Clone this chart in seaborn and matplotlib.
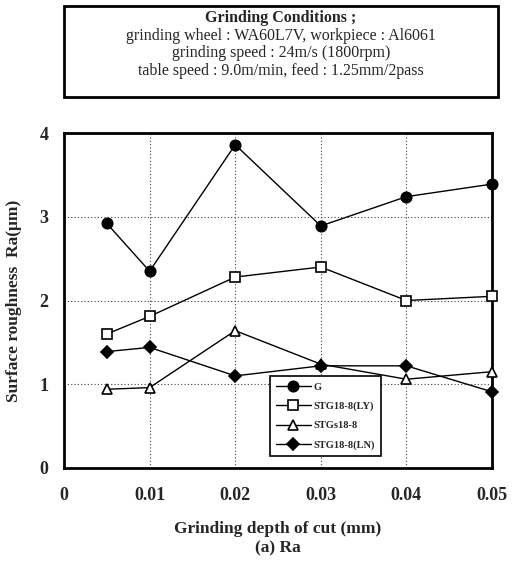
import matplotlib
matplotlib.use("Agg")
import matplotlib.pyplot as plt
import seaborn as sns
import pandas as pd
from matplotlib.patches import Rectangle

depth = [0.005, 0.01, 0.02, 0.03, 0.04, 0.05]
series_names = ["G", "STG18-8(LY)", "STGs18-8", "STG18-8(LN)"]
ra_G = [2.92, 2.35, 3.86, 2.89, 3.24, 3.39]
ra_LY = [1.60, 1.81, 2.28, 2.40, 2.00, 2.05]
ra_s = [0.94, 0.96, 1.64, 1.24, 1.06, 1.15]
ra_LN = [1.39, 1.44, 1.10, 1.22, 1.22, 0.91]
x_ticks = [0, 0.01, 0.02, 0.03, 0.04, 0.05]
x_tick_labels = ["0", "0.01", "0.02", "0.03", "0.04", "0.05"]
y_ticks = [0, 1, 2, 3, 4]
box_lines = ["Grinding Conditions ;",
             "grinding wheel : WA60L7V, workpiece : Al6061",
             "grinding speed : 24m/s (1800rpm)",
             "table speed : 9.0m/min, feed : 1.25mm/2pass"]

values = [ra_G, ra_LY, ra_s, ra_LN]
df = pd.DataFrame({
    "depth": depth * len(series_names),
    "Ra": sum(values, []),
    "series": sum([[n] * len(depth) for n in series_names], []),
})

sns.set_theme(style="white")
plt.rcParams["font.family"] = ["Liberation Serif", "DejaVu Serif"]

fig = plt.figure(figsize=(5.25, 5.66), dpi=100)
ax = fig.add_axes([64 / 525, 1 - 468 / 566, 428 / 525, 335 / 566])

styles = {
    "G": dict(marker="o", mfc="black", ms=7.5),
    "STG18-8(LY)": dict(marker="s", mfc="white", ms=7),
    "STGs18-8": dict(marker="^", mfc="white", ms=7.5),
    "STG18-8(LN)": dict(marker="D", mfc="black", ms=6.5),
}
for name in series_names:
    st = styles[name]
    sns.lineplot(data=df[df["series"] == name], x="depth", y="Ra", ax=ax,
                 color="black", lw=1.0, marker=st["marker"],
                 markerfacecolor=st["mfc"], markeredgecolor="black",
                 markeredgewidth=1.2, markersize=st["ms"], label=name,
                 legend=False, clip_on=False, zorder=3)

ax.set_xlim(0, 0.05)
ax.set_ylim(0, 4)
ax.set_xticks(x_ticks)
ax.set_xticklabels(x_tick_labels)
ax.set_yticks(y_ticks)
ax.grid(True, color="#444444", linestyle=(0, (1, 2)), linewidth=0.8)
for s in ax.spines.values():
    s.set_visible(True)
    s.set_color("black")
    s.set_linewidth(2.0)
ax.tick_params(axis="both", direction="in", length=4, width=1.2, color="black",
               labelsize=13)
ax.tick_params(axis="x", pad=14)
ax.tick_params(axis="y", pad=11)
for lab in ax.get_xticklabels() + ax.get_yticklabels():
    lab.set_fontweight("bold")

ax.set_xlabel("Grinding depth of cut (mm)\n(a) Ra", fontsize=12.5,
              fontweight="bold", labelpad=12, linespacing=1.25)
ax.set_ylabel("Surface roughness  Ra(\u03bcm)", fontsize=12.5,
              fontweight="bold", labelpad=13)

leg = ax.legend(handles=ax.lines[:4], labels=series_names, loc="lower left",
                bbox_to_anchor=(0.468, 0.02),
                prop={"weight": "bold", "size": 7.5}, handlelength=3.4,
                handletextpad=0.2, labelspacing=0.95, borderpad=0.6,
                fancybox=False, framealpha=1, edgecolor="black")
leg.get_frame().set_linewidth(1.2)
leg.set_zorder(5)

rect = Rectangle((64 / 525, 1 - 97 / 566), 434 / 525, 91 / 566,
                 transform=fig.transFigure, fill=False, edgecolor="black",
                 linewidth=2.0)
fig.patches.append(rect)
ys = [18, 36, 53, 71]
for i, (t, yp) in enumerate(zip(box_lines, ys)):
    fig.text(281 / 525, 1 - yp / 566, t, ha="center", va="center",
             fontsize=11.5, fontweight="bold" if i == 0 else "normal")

fig.savefig("out.png", dpi=100)
